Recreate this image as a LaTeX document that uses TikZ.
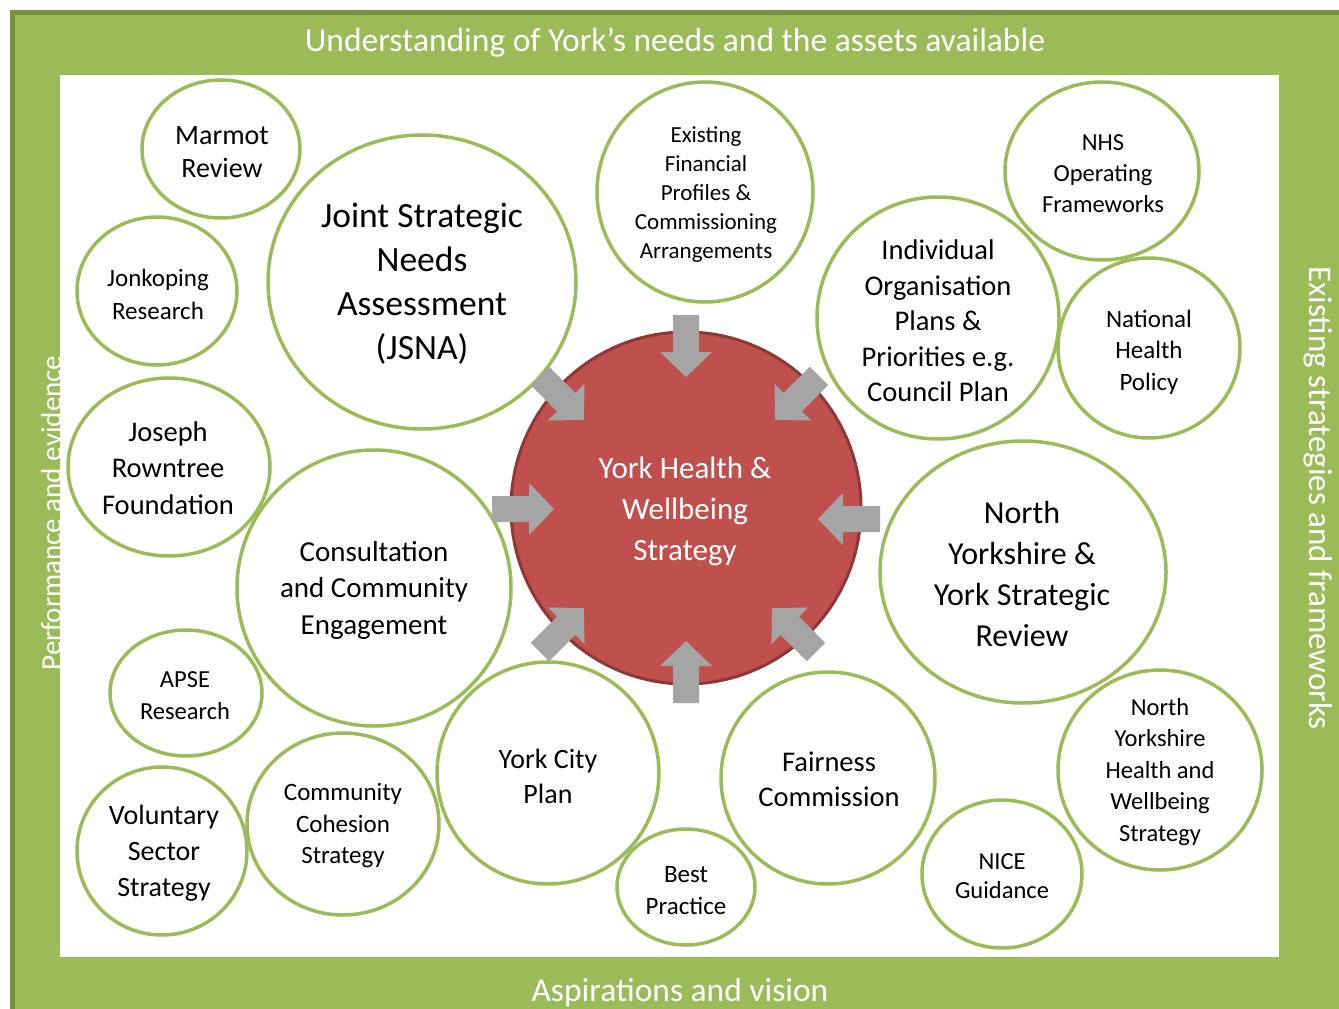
\documentclass[tikz,border=0pt]{standalone}
\usepackage{fontspec}
\setmainfont{Carlito}
\newcommand\myfs[2]{\fontsize{#1}{#2}\selectfont}
\definecolor{bandgreen}{HTML}{9BBB59}
\definecolor{darkgreen}{HTML}{77933C}
\definecolor{ringgreen}{HTML}{9BBB59}
\definecolor{centrered}{HTML}{C0504D}
\definecolor{centreedge}{HTML}{8C3836}
\definecolor{arrowgrey}{HTML}{A5A5A5}
\tikzset{
  ring/.style={draw=ringgreen, line width=3.5pt},
  label/.style={align=center, inner sep=0pt, text=black},
  bandtext/.style={text=white, inner sep=0pt, font=\myfs{33.5}{40}},
  blockarrow/.pic={\fill[arrowgrey] (0,-13) -- (37,-13) -- (37,-26) -- (62,0) -- (37,26) -- (37,13) -- (0,13) -- cycle;}
}
\begin{document}
\begin{tikzpicture}[x=1pt,y=-1pt]
\useasboundingbox (0,0) rectangle (1339,1009);
% frame
\fill[bandgreen] (12,12) rectangle (1360,1030);
\draw[darkgreen, line width=5pt] (12.5,1030) -- (12.5,12.5) -- (1360,12.5);
\fill[white] (60,75) rectangle (1279,957);
% band texts
\node[bandtext, anchor=base] (toptext) at (675,51) {Understanding of York’s needs and the assets available};
\node[bandtext, anchor=base] (bottomtext) at (680,1001) {Aspirations and vision};
\node[text=white, inner sep=0pt, font=\myfs{29}{30}, rotate=90, anchor=base] (lefttext) at (61,513) {Performance and evidence};
\node[text=white, inner sep=0pt, font=\myfs{33}{34}, rotate=-90, anchor=base] (righttext) at (1309,498) {Existing strategies and frameworks};
% bubbles: text nodes
\node[label, font=\myfs{28}{33}] (marmot) at (222,152) {Marmot\\Review};
\node[label, font=\myfs{25}{33}] (jonk) at (158,294) {Jonkoping\\Research};
\node[label, font=\myfs{35.5}{44}] (jsna) at (422,284) {Joint Strategic\\Needs\\Assessment\\(JSNA)};
\node[label, font=\myfs{23}{29}] (exist) at (706,195) {Existing\\Financial\\Profiles \&\\Commissioning\\Arrangements};
\node[label, font=\myfs{24.5}{31}] (nhs) at (1103,174) {NHS\\Operating\\Frameworks};
\node[label, font=\myfs{25}{31.5}] (natl) at (1149,352) {National\\Health\\Policy};
\node[label, font=\myfs{28.5}{35.5}] (indiv) at (938,321) {Individual\\Organisation\\Plans \&\\Priorities e.g.\\Council Plan};
\node[label, font=\myfs{28.5}{36.5}] (jrf) at (168,468) {Joseph\\Rowntree\\Foundation};
\node[label, font=\myfs{29}{36.5}] (consult) at (374,590) {Consultation\\and Community\\Engagement};
\node[label, font=\myfs{32}{40.7}] (nyyr) at (1022,574) {North\\Yorkshire \&\\York Strategic\\Review};
\node[label, font=\myfs{24.5}{32}] (apse) at (185,696) {APSE\\Research};
\node[label, font=\myfs{28}{36}] (vol) at (164,853) {Voluntary\\Sector\\Strategy};
\node[label, font=\myfs{25}{31.5}] (cohes) at (343,826) {Community\\Cohesion\\Strategy};
\node[label, font=\myfs{28}{35}] (ycp) at (548,776) {York City\\Plan};
\node[label, font=\myfs{25}{32}] (best) at (686,891) {Best\\Practice};
\node[label, font=\myfs{28.5}{35}] (fair) at (829,779) {Fairness\\Commission};
\node[label, font=\myfs{24.5}{29}] (nice) at (1002,876) {NICE\\Guidance};
\node[label, font=\myfs{24.5}{31.5}] (nyhw) at (1160,772) {North\\Yorkshire\\Health and\\Wellbeing\\Strategy};
% rings
\draw[ring] (221,149) ellipse [x radius=79pt, y radius=69pt];
\draw[ring] (157,291) ellipse [x radius=80pt, y radius=74pt];
\draw[ring] (422,282) ellipse [x radius=154pt, y radius=147pt];
\draw[ring] (705,192) ellipse [x radius=108pt, y radius=110pt];
\draw[ring] (1102,171) ellipse [x radius=97pt, y radius=89pt];
\draw[ring] (1149,348) ellipse [x radius=91pt, y radius=90pt];
\draw[ring] (938,318) ellipse [x radius=121pt, y radius=121pt];
\draw[ring] (169,467) ellipse [x radius=101pt, y radius=89pt];
\draw[ring] (374,588) ellipse [x radius=137pt, y radius=138pt];
\draw[ring] (1023,572) ellipse [x radius=143pt, y radius=131pt];
\draw[ring] (186,693) ellipse [x radius=76pt, y radius=63pt];
\draw[ring] (162,851) ellipse [x radius=85pt, y radius=84pt];
\draw[ring] (343,824) ellipse [x radius=96pt, y radius=91pt];
\draw[ring] (548,773) ellipse [x radius=111pt, y radius=111pt];
\draw[ring] (686,887) ellipse [x radius=69pt, y radius=58pt];
\draw[ring] (828,778) ellipse [x radius=107pt, y radius=106pt];
\draw[ring] (1002,874) ellipse [x radius=80pt, y radius=74pt];
\draw[ring] (1160,770) ellipse [x radius=102pt, y radius=100pt];
% centre
\draw[fill=centrered, draw=centreedge, line width=3pt] (686,508) ellipse [x radius=175pt, y radius=176pt];
\node[label, text=white, font=\myfs{31}{41}] (centre) at (685,511) {York Health \&\\Wellbeing\\Strategy};
% arrows
\pic[rotate=-90] at (686,315) {blockarrow};
\pic[rotate=90] at (686,703) {blockarrow};
\pic[rotate=0] at (492,509) {blockarrow};
\pic[rotate=180] at (880,519) {blockarrow};
\pic[rotate=-45] at (540,376) {blockarrow};
\pic[rotate=-135] at (819,376) {blockarrow};
\pic[rotate=45] at (540,652) {blockarrow};
\pic[rotate=135] at (816,652) {blockarrow};
\end{tikzpicture}
\end{document}
